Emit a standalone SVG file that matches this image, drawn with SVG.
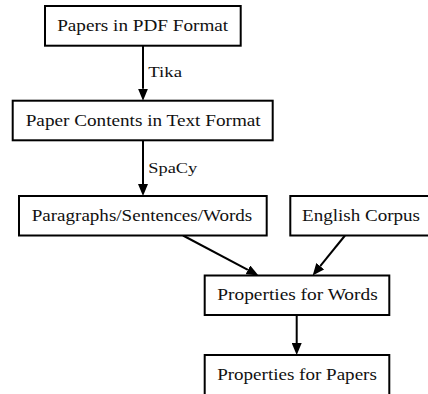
<svg xmlns="http://www.w3.org/2000/svg" width="428" height="394" viewBox="0 0 428 394">
<defs>
<style>
.box{fill:#fff;stroke:#000;stroke-width:2}
.lbl{font-family:"Liberation Serif","Times New Roman",serif;font-size:17px;fill:#111;text-anchor:middle}
.elbl{font-family:"Liberation Serif","Times New Roman",serif;font-size:15.5px;fill:#111}
.edge{stroke:#000;stroke-width:2;fill:none}
</style>
<marker id="ah" markerUnits="userSpaceOnUse" markerWidth="12" markerHeight="10" refX="0" refY="5" orient="auto">
<path d="M0,0 L12,5 L0,10 z" fill="#000"/>
</marker>
</defs>
<rect width="428" height="394" fill="#fff"/>
<g id="connectors">
<line class="edge" x1="143" y1="45.7" x2="143" y2="88.7" marker-end="url(#ah)"/>
<text class="elbl" x="148.3" y="77.3" textLength="33.7" lengthAdjust="spacingAndGlyphs">Tika</text>
<line class="edge" x1="143" y1="140.3" x2="143" y2="184" marker-end="url(#ah)"/>
<text class="elbl" x="148.3" y="172.7" textLength="49" lengthAdjust="spacingAndGlyphs">SpaCy</text>
<line class="edge" x1="183" y1="235.5" x2="247.9" y2="269.9" marker-end="url(#ah)"/>
<line class="edge" x1="345" y1="235.5" x2="320.2" y2="266.2" marker-end="url(#ah)"/>
<line class="edge" x1="296.7" y1="315" x2="296.7" y2="343" marker-end="url(#ah)"/>
</g>
<g id="pdf">
<rect class="box" x="45" y="6" width="195.7" height="39.7"/>
<text class="lbl" x="142.7" y="31" textLength="171" lengthAdjust="spacingAndGlyphs">Papers in PDF Format</text>
</g>
<g id="text">
<rect class="box" x="12.7" y="100.7" width="260" height="39.6"/>
<text class="lbl" x="143.2" y="126" textLength="235" lengthAdjust="spacingAndGlyphs">Paper Contents in Text Format</text>
</g>
<g id="psw">
<rect class="box" x="19" y="196" width="247.7" height="39.5"/>
<text class="lbl" x="142" y="220.5" textLength="220.6" lengthAdjust="spacingAndGlyphs">Paragraphs/Sentences/Words</text>
</g>
<g id="corpus">
<rect class="box" x="290.3" y="196" width="140" height="39.5"/>
<text class="lbl" x="361" y="220.5" textLength="118" lengthAdjust="spacingAndGlyphs">English Corpus</text>
</g>
<g id="words">
<rect class="box" x="204.7" y="275.5" width="184.6" height="39.5"/>
<text class="lbl" x="297.5" y="299.5" textLength="160.4" lengthAdjust="spacingAndGlyphs">Properties for Words</text>
</g>
<g id="papers">
<rect class="box" x="204.7" y="355" width="184.6" height="40"/>
<text class="lbl" x="297" y="379.5" textLength="159.7" lengthAdjust="spacingAndGlyphs">Properties for Papers</text>
</g>
</svg>
